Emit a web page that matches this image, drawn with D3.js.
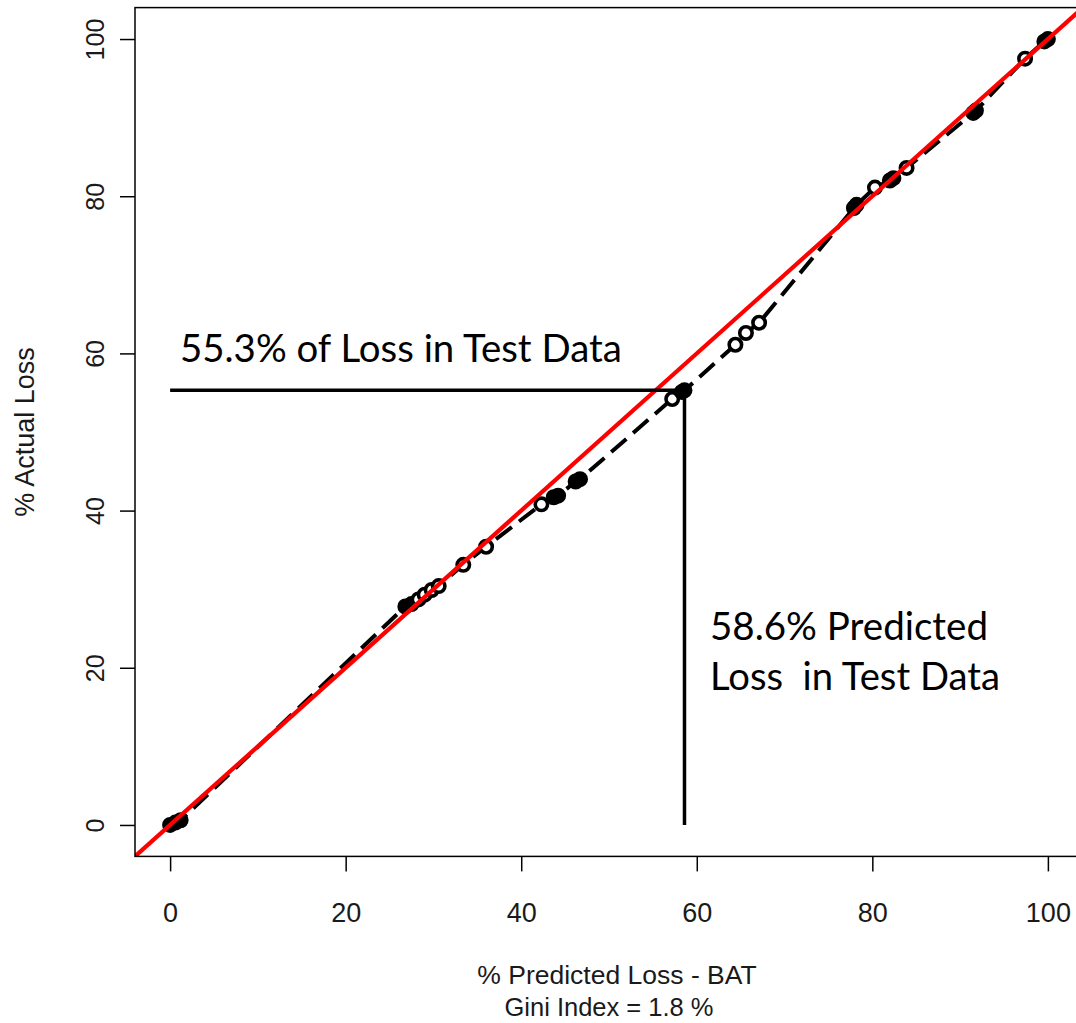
<!DOCTYPE html>
<html>
<head>
<meta charset="utf-8">
<script src="https://cdn.jsdelivr.net/npm/d3@7"></script>
<style>
  html, body { margin: 0; padding: 0; background: #fff; }
  svg { display: block; }
  .note { font-family: "Lato", "Open Sans", sans-serif; fill: #000; white-space: pre; }
  .ax { font-family: "Liberation Sans", Arial, sans-serif; fill: #1a1a1a; }
</style>
</head>
<body>
<svg id="chart" width="1076" height="1023"></svg>
<script>
// Cumulative share of predicted loss (x) vs. actual loss (y), in percent
const predictedPct = [0, 0.6, 1.2, 26.8, 27.5, 28.3, 29.0, 29.8, 30.6, 33.4, 36.0,
  42.3, 43.7, 44.2, 46.2, 46.7, 57.2, 58.3, 58.6, 64.4, 65.6, 67.1,
  77.9, 78.2, 80.3, 82.0, 82.4, 83.9, 91.5, 91.8, 97.4, 99.6, 100];
const actualPct = [0, 0.3, 0.6, 27.8, 28.1, 28.7, 29.3, 29.9, 30.4, 33.1, 35.4,
  40.8, 41.7, 41.9, 43.7, 44.0, 54.2, 55.1, 55.3, 61.1, 62.6, 63.9,
  78.5, 78.9, 81.1, 82.0, 82.3, 83.6, 90.6, 90.9, 97.5, 99.7, 100];
const xTicks = [0, 20, 40, 60, 80, 100];
const yTicks = [0, 20, 40, 60, 80, 100];
const xTitle = "% Predicted Loss - BAT";
const subTitle = "Gini Index = 1.8 %";
const yTitle = "% Actual Loss";
const markActual = 55.3;
const markPredicted = 58.6;
const noteActual = "55.3% of Loss in Test Data";
const notePredicted = ["58.6% Predicted", "Loss  in Test Data"];

const points = predictedPct.map((p, i) => ({ x: p, y: actualPct[i] }));
// points sitting on top of a neighbour pile up into a solid blob
points.forEach((d, i) => {
  d.crowded = points.some((o, j) => j !== i && Math.hypot(o.x - d.x, o.y - d.y) < 0.9);
});

const svg = d3.select("#chart");
const x = d3.scaleLinear().domain([-4, 104]).range([135, 1083]);
const y = d3.scaleLinear().domain([-4, 104]).range([856.4, 7.6]);

svg.append("clipPath").attr("id", "plotClip")
  .append("rect")
  .attr("x", x(-4)).attr("y", y(104))
  .attr("width", x(104) - x(-4)).attr("height", y(-4) - y(104));

// x axis
const gx = svg.append("g").attr("transform", `translate(0,${y(-4)})`)
  .call(d3.axisBottom(x).tickValues(xTicks).tickSize(15).tickPadding(31).tickFormat(d3.format("d")));
gx.select(".domain").remove();
gx.selectAll("line").attr("stroke", "#000").attr("stroke-width", 1.5);
gx.selectAll("text").attr("class", "ax").style("font-size", "27px");

// y axis, labels turned vertical
const gy = svg.append("g").attr("transform", `translate(${x(-4)},0)`)
  .call(d3.axisLeft(y).tickValues(yTicks).tickSize(15).tickFormat(d3.format("d")));
gy.select(".domain").remove();
gy.selectAll("line").attr("stroke", "#000").attr("stroke-width", 1.5);
gy.selectAll("text")
  .attr("class", "ax")
  .style("font-size", "25px")
  .attr("x", null).attr("dy", null)
  .attr("text-anchor", "middle")
  .attr("transform", "translate(-31,0) rotate(-90)");

// axis titles
svg.append("text").attr("class", "ax")
  .attr("x", 617).attr("y", 984)
  .attr("text-anchor", "middle").style("font-size", "26.5px").text(xTitle);
svg.append("text").attr("class", "ax")
  .attr("x", 609).attr("y", 1016)
  .attr("text-anchor", "middle").style("font-size", "25.5px").text(subTitle);
svg.append("text").attr("class", "ax")
  .attr("transform", `translate(34,${(y(0) + y(100)) / 2}) rotate(-90)`)
  .attr("text-anchor", "middle").style("font-size", "27px").text(yTitle);

const plot = svg.append("g").attr("clip-path", "url(#plotClip)");

// Lorenz-type curve: dashed line through the cumulative points
const line = d3.line().x(d => x(d.x)).y(d => y(d.y));
plot.append("path").datum(points)
  .attr("d", line)
  .attr("fill", "none")
  .attr("stroke", "#000")
  .attr("stroke-width", 4)
  .attr("stroke-dasharray", "20,9");

plot.selectAll("circle.pt").data(points).join("circle")
  .attr("class", "pt")
  .attr("cx", d => x(d.x)).attr("cy", d => y(d.y))
  .attr("r", 6.2)
  .attr("fill", d => d.crowded ? "#000" : "#fff")
  .attr("stroke", "#000")
  .attr("stroke-width", 3.6);

// Reference lines marking the highlighted point
svg.append("line")
  .attr("x1", x(0)).attr("x2", x(markPredicted))
  .attr("y1", y(markActual)).attr("y2", y(markActual))
  .attr("stroke", "#000").attr("stroke-width", 3.5);
svg.append("line")
  .attr("x1", x(markPredicted)).attr("x2", x(markPredicted))
  .attr("y1", y(markActual)).attr("y2", y(0))
  .attr("stroke", "#000").attr("stroke-width", 3.5);

// line of equality
plot.append("line")
  .attr("x1", x(-4)).attr("y1", y(-4))
  .attr("x2", x(104)).attr("y2", y(104))
  .attr("stroke", "#ff0000").attr("stroke-width", 4.2);

// plot frame
svg.append("rect")
  .attr("x", x(-4)).attr("y", y(104))
  .attr("width", x(104) - x(-4)).attr("height", y(-4) - y(104))
  .attr("fill", "none").attr("stroke", "#000").attr("stroke-width", 1.5);

// annotations, sized to their set widths
function note(txt, px, py, width) {
  const t = svg.append("text").attr("class", "note")
    .attr("x", px).attr("y", py).style("font-size", "36px").text(txt);
  const w = t.node().getComputedTextLength();
  t.style("font-size", (36 * width / w).toFixed(2) + "px");
  return t;
}
note(noteActual, 180, 362, 442);
note(notePredicted[0], 710, 640, 278);
note(notePredicted[1], 710, 690, 290);
</script>
</body>
</html>
